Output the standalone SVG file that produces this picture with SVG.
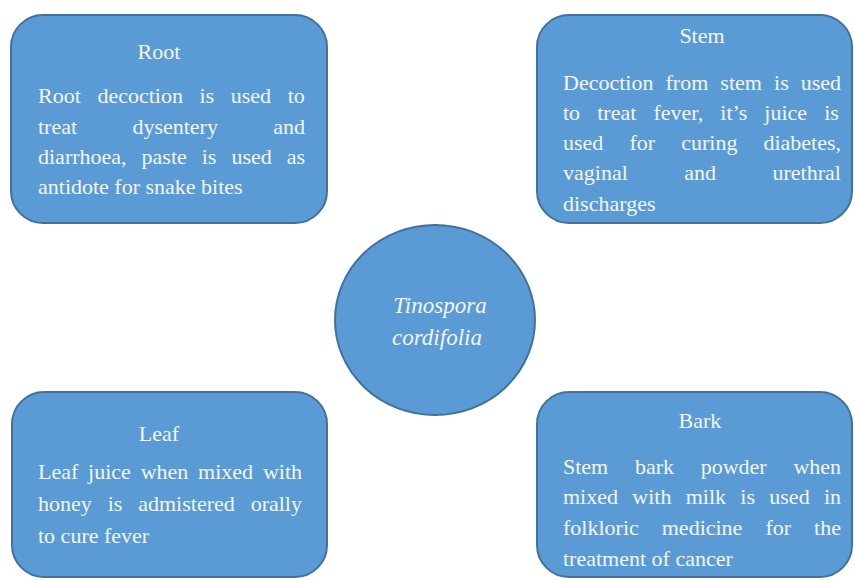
<svg xmlns="http://www.w3.org/2000/svg" width="855" height="581" viewBox="0 0 855 581">
<style>
.box{fill:#5b9bd5;stroke:#41719c;stroke-width:2}
text{font-family:'Liberation Serif','Times New Roman',serif;font-size:22px;fill:#f2f6fb}
.c{text-anchor:middle}
.i{font-style:italic;text-anchor:middle;font-size:23px}
</style>
<rect width="855" height="581" fill="#ffffff"/>
<g id="connectors"></g>
<g id="root">
<rect class="box" x="11" y="15" width="316" height="208" rx="32"/>
<text class="c" x="159" y="59">Root</text>
<text x="38" y="103" word-spacing="11.1">Root decoction is used to</text>
<text x="38" y="134" word-spacing="49.8">treat dysentery and</text>
<text x="38" y="164" word-spacing="9.5">diarrhoea, paste is used as</text>
<text x="38" y="194">antidote for snake bites</text>
</g>
<g id="stem">
<rect class="box" x="537" y="15" width="315" height="208" rx="32"/>
<text class="c" x="702" y="43">Stem</text>
<text x="563" y="90" word-spacing="6.6">Decoction from stem is used</text>
<text x="563" y="120" word-spacing="11.6">to treat fever, it’s juice is</text>
<text x="563" y="150" word-spacing="20.6">used for curing diabetes,</text>
<text x="563" y="180" word-spacing="51">vaginal and urethral</text>
<text x="563" y="211">discharges</text>
</g>
<g id="center">
<ellipse class="box" cx="435" cy="320" rx="100" ry="95"/>
<text class="i" x="440" y="313">Tinospora</text>
<text class="i" x="437" y="345">cordifolia</text>
</g>
<g id="leaf">
<rect class="box" x="12" y="392" width="315" height="185" rx="32"/>
<text class="c" x="159" y="441">Leaf</text>
<text x="38" y="479" word-spacing="4.3">Leaf juice when mixed with</text>
<text x="38" y="511" word-spacing="10.4">honey is admistered orally</text>
<text x="38" y="543">to cure fever</text>
</g>
<g id="bark">
<rect class="box" x="537" y="392" width="315" height="185" rx="32"/>
<text class="c" x="700" y="428">Bark</text>
<text x="563" y="474" word-spacing="21.2">Stem bark powder when</text>
<text x="563" y="504" word-spacing="8.8">mixed with milk is used in</text>
<text x="563" y="535" word-spacing="17.5">folkloric medicine for the</text>
<text x="563" y="566">treatment of cancer</text>
</g>
</svg>
